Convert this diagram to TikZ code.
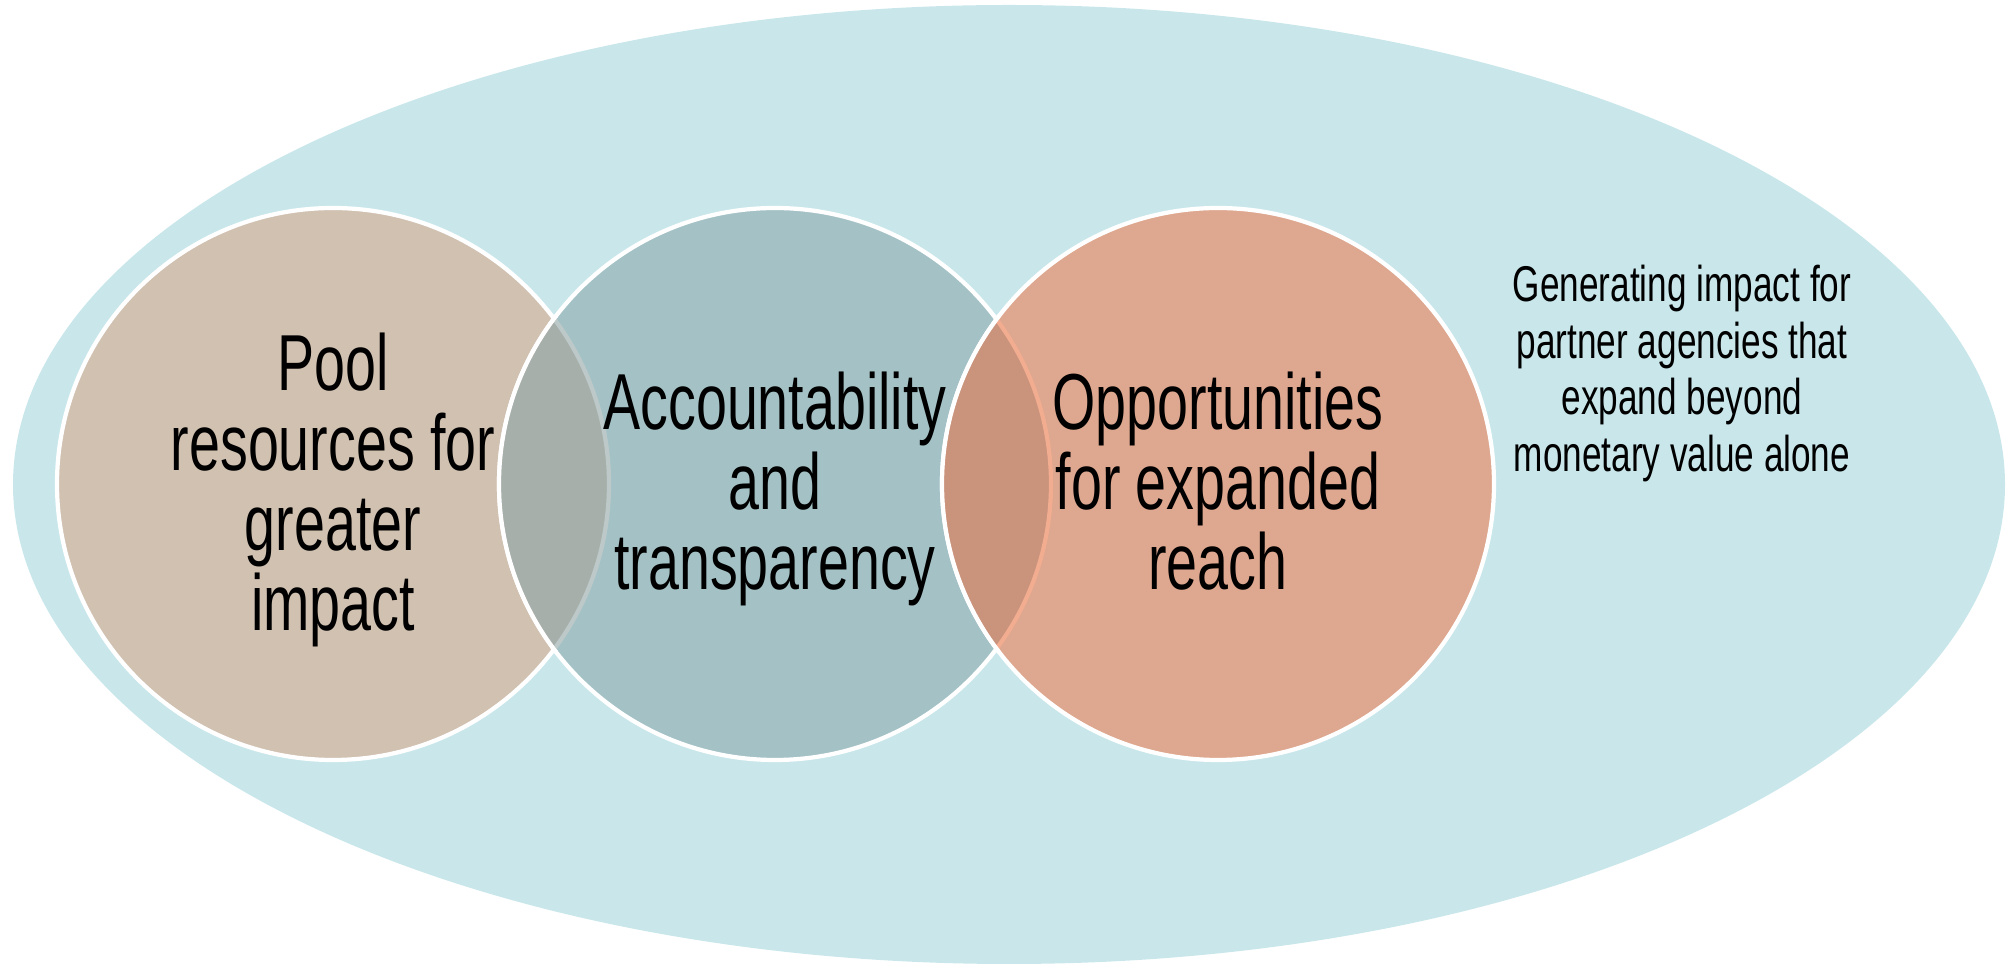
\documentclass[tikz,border=0pt]{standalone}
\usepackage{fontspec}
\setmainfont[FakeStretch=0.7]{Liberation Sans}
\usetikzlibrary{positioning}

\definecolor{bgblue}{HTML}{C9E7EB}
\definecolor{pooltan}{HTML}{D1C1B1}
\definecolor{acctblue}{HTML}{A4C2C6}
\definecolor{reachred}{HTML}{DEA78F}
\definecolor{lensgrey}{HTML}{A7AFAA}
\definecolor{lensred}{HTML}{CA937C}
\definecolor{faintgrey}{HTML}{BDC9C8}
\definecolor{faintred}{HTML}{F2AC90}

\begin{document}
\begin{tikzpicture}[
    venn/.style={circle, draw=white, line width=1.2pt, minimum size=5.52cm, inner sep=0pt},
    bigtext/.style={align=center, inner sep=0pt, anchor=north, font=\fontsize{22.6}{22.8}\selectfont},
    sidetext/.style={align=center, inner sep=0pt, anchor=north, font=\fontsize{14.3}{16.2}\selectfont}]

    \useasboundingbox (0,0) rectangle (20.08,9.64);
    \fill[bgblue] (10.09,4.795) ellipse (9.96 and 4.795);

    % Kreise
    \node[venn, fill=pooltan] (pool) at (3.33,4.8) {};
    \node[venn, fill=acctblue] (acct) at (7.75,4.8) {};
    \node[venn, fill=reachred] (reach) at (12.18,4.8) {};

    % Schnittflaechen
    \begin{scope}
        \clip (pool.center) circle (2.76);
        \fill[lensgrey] (acct.center) circle (2.76);
    \end{scope}
    \begin{scope}
        \clip (acct.center) circle (2.76);
        \fill[lensred] (reach.center) circle (2.76);
    \end{scope}
    \begin{scope}
        \clip (acct.center) circle (2.76);
        \draw[faintgrey, line width=1.2pt] (pool.center) circle (2.76);
    \end{scope}
    \begin{scope}
        \clip (reach.center) circle (2.76);
        \draw[faintred, line width=1.2pt] (acct.center) circle (2.76);
    \end{scope}
    \begin{scope}
        \clip (pool.center) circle (2.8);
        \draw[white, line width=1.2pt] (acct.center) circle (2.76);
    \end{scope}
    \begin{scope}
        \clip (acct.center) circle (2.8);
        \draw[white, line width=1.2pt] (reach.center) circle (2.76);
    \end{scope}

    % Texte
    \node[bigtext] (pooltext) at (3.33,6.32) {Pool\\resources for\\greater\\impact};
    \node[bigtext] (accttext) at (7.75,5.93) {Accountability\\and\\transparency};
    \node[bigtext] (reachtext) at (12.18,5.93) {Opportunities\\for expanded\\reach};
    \node[sidetext] (gaintext) at (16.82,7.00) {Generating impact for\\partner agencies that\\expand beyond\\monetary value alone};
\end{tikzpicture}
\end{document}
